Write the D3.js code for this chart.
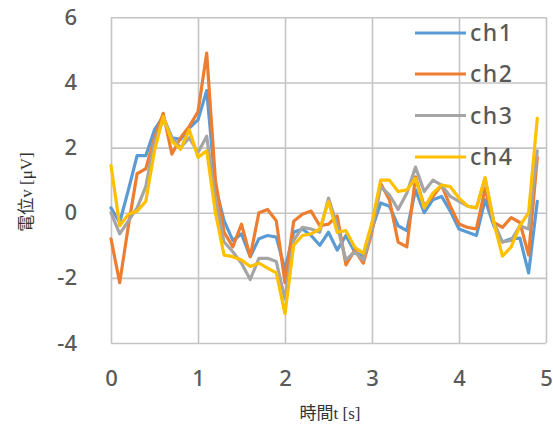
<!DOCTYPE html>
<html>
<head>
<meta charset="utf-8">
<script src="https://cdn.jsdelivr.net/npm/d3@7/dist/d3.min.js"></script>
<style>
  html, body { margin: 0; padding: 0; background: #ffffff; }
  svg { display: block; }
</style>
</head>
<body>
<svg id="chart" width="553" height="425"></svg>
<script>
// ---- data ----
const timeValues = [0.0,0.1,0.2,0.3,0.4,0.5,0.6,0.7,0.8,0.9,
  1.0,1.1,1.2,1.3,1.4,1.5,1.6,1.7,1.8,1.9,
  2.0,2.1,2.2,2.3,2.4,2.5,2.6,2.7,2.8,2.9,
  3.0,3.1,3.2,3.3,3.4,3.5,3.6,3.7,3.8,3.9,
  4.0,4.1,4.2,4.3,4.4,4.5,4.6,4.7,4.8,4.9];

const ch1 = [0.15,-0.3,0.7,1.75,1.75,2.55,2.95,2.3,2.25,2.6,
  2.85,3.75,0.8,-0.25,-0.85,-0.65,-1.35,-0.8,-0.7,-0.75,
  -1.75,-0.6,-0.5,-0.7,-1.0,-0.6,-1.15,-0.7,-1.2,-1.35,
  -0.5,0.3,0.2,-0.4,-0.55,0.7,0.0,0.4,0.5,0.05,
  -0.5,-0.6,-0.7,0.4,-0.4,-0.9,-0.8,-0.78,-1.85,0.35];

const ch2 = [-0.8,-2.15,-0.4,1.2,1.35,2.3,3.05,1.8,2.3,2.65,
  3.1,4.9,1.0,-0.6,-1.05,-0.35,-1.35,0.0,0.1,-0.25,
  -2.15,-0.26,-0.05,0.05,-0.4,-0.35,-0.1,-1.6,-1.15,-1.55,
  -0.6,0.9,0.4,-0.9,-1.05,1.1,0.2,0.5,0.85,0.2,
  -0.35,-0.45,-0.5,0.75,-0.3,-0.45,-0.15,-0.3,-1.3,1.7];

const ch3 = [0.0,-0.65,-0.25,0.15,0.8,2.2,2.85,2.3,2.0,2.3,
  1.85,2.35,0.4,-0.9,-1.2,-1.55,-2.05,-1.4,-1.4,-1.5,
  -2.65,-0.85,-0.45,-0.5,-0.6,0.45,-0.4,-1.45,-1.2,-1.45,
  -0.5,0.8,0.55,0.1,0.6,1.4,0.65,1.0,0.85,0.5,
  0.35,0.2,0.15,1.05,-0.3,-0.9,-0.85,-0.4,-0.5,1.9];

const ch4 = [1.45,-0.4,-0.05,0.05,0.35,1.9,2.95,2.2,1.95,2.55,
  1.7,1.9,0.0,-1.3,-1.35,-1.45,-1.65,-1.55,-1.7,-1.85,
  -3.1,-1.0,-0.7,-0.65,-0.5,0.35,-0.6,-0.55,-1.05,-1.25,
  -0.3,1.0,1.0,0.65,0.7,1.05,0.15,0.6,0.85,0.8,
  0.45,0.2,0.15,1.08,-0.3,-1.33,-1.05,-0.4,0.0,2.9];

const seriesNames = ["ch1", "ch2", "ch3", "ch4"];
const seriesColors = ["#5B9BD5", "#ED7D31", "#A5A5A5", "#FFC000"];
const xTicks = [0, 1, 2, 3, 4, 5];
const yTicks = [-4, -2, 0, 2, 4, 6];
const xTitle = "時間t [s]";
const yTitle = "電位v [μV]";

// ---- drawing ----
const svg = d3.select("#chart");
const plotLeft = 111, plotRight = 546, plotTop = 17.3, plotBottom = 343;

const x = d3.scaleLinear().domain([0, 5]).range([plotLeft, plotRight]);
const y = d3.scaleLinear().domain([-4, 6]).range([plotBottom, plotTop]);

const gridColor = "#c4c4c4";
const textColor = "#595959";
const tickFont = "'Noto Sans', 'Open Sans', sans-serif";
const fmt = d => String(d);

// x axis with vertical gridlines
const gx = svg.append("g")
  .attr("transform", `translate(0,${plotBottom})`)
  .call(d3.axisBottom(x).tickValues(xTicks).tickFormat(fmt)
    .tickSize(-(plotBottom - plotTop)).tickPadding(27));
gx.select(".domain").remove();
gx.selectAll(".tick line").attr("stroke", gridColor).attr("stroke-width", 1.6);
gx.selectAll(".tick text").attr("fill", textColor)
  .style("font-family", tickFont).style("font-size", "22px").style("font-weight", 500);

// y axis with horizontal gridlines
const gy = svg.append("g")
  .attr("transform", `translate(${plotLeft},0)`)
  .call(d3.axisLeft(y).tickValues(yTicks).tickFormat(fmt)
    .tickSize(-(plotRight - plotLeft)).tickPadding(34));
gy.select(".domain").remove();
gy.selectAll(".tick line").attr("stroke", gridColor).attr("stroke-width", 1.6);
gy.selectAll(".tick text").attr("fill", textColor)
  .style("font-family", tickFont).style("font-size", "22px").style("font-weight", 500);

// axis titles
svg.append("text")
  .attr("x", 330).attr("y", 419)
  .attr("text-anchor", "middle")
  .attr("fill", "#333333")
  .style("font-family", "'Liberation Serif', 'Noto Sans CJK JP', serif")
  .style("font-size", "17px")
  .text(xTitle);

svg.append("text")
  .attr("transform", `translate(32,192) rotate(-90)`)
  .attr("text-anchor", "middle")
  .attr("fill", "#333333")
  .style("font-family", "'Liberation Serif', 'Noto Sans CJK JP', serif")
  .style("font-size", "17px")
  .text(yTitle);

// lines
const allSeries = [ch1, ch2, ch3, ch4];
const line = d3.line()
  .x((d, i) => x(timeValues[i]))
  .y(d => y(d));

svg.append("g").selectAll("path")
  .data(allSeries)
  .join("path")
  .attr("d", d => line(d))
  .attr("fill", "none")
  .attr("stroke", (d, i) => seriesColors[i])
  .attr("stroke-width", 3.2)
  .attr("stroke-linejoin", "round")
  .attr("stroke-linecap", "round");

// legend
const legendY = [33, 74, 115.5, 157];
const lg = svg.append("g");
const entries = lg.selectAll("g")
  .data(seriesNames)
  .join("g")
  .attr("transform", (d, i) => `translate(0,${legendY[i]})`);
entries.append("line")
  .attr("x1", 415).attr("x2", 466)
  .attr("y1", 0).attr("y2", 0)
  .attr("stroke", (d, i) => seriesColors[i])
  .attr("stroke-width", 3);
entries.append("text")
  .attr("x", 470).attr("y", 0).attr("dy", "0.36em")
  .attr("fill", textColor)
  .style("font-family", tickFont)
  .style("font-size", "23px")
  .style("font-weight", 500)
  .style("letter-spacing", "1.5px")
  .text(d => d);
</script>
</body>
</html>
